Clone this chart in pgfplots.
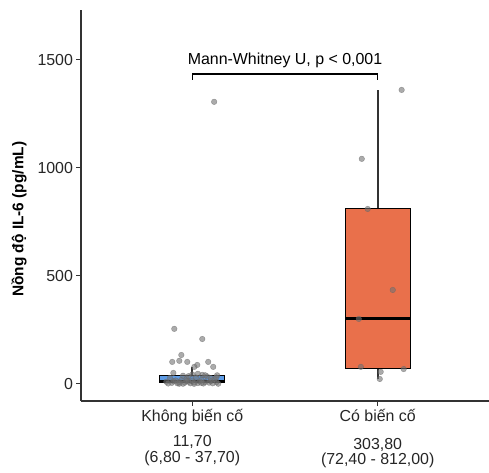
\documentclass[border=0pt]{standalone}
\usepackage{fontspec}
\setmainfont{Liberation Sans}
\usepackage{pgfplots}
\pgfplotsset{compat=1.18}
\definecolor{boxblue}{HTML}{5E9CE6}
\definecolor{boxorange}{HTML}{E9704B}
\definecolor{axisgray}{HTML}{333333}
\begin{document}
\begin{tikzpicture}
\begin{axis}[
  at={(0,0)}, anchor=south west,
  scale only axis, width=408bp, height=391bp,
  xmin=0.4, xmax=2.6, ymin=-79, ymax=1731,
  axis x line*=bottom, axis y line*=left,
  xtick={1,2}, xticklabels={Không biến cố, Có biến cố},
  ytick={0,500,1000,1500},
  tick align=outside, major tick length=4.5bp,
  tick style={axisgray, line width=0.9bp},
  axis line style={axisgray, line width=1.1bp},
  ticklabel style={font=\fontsize{16}{19}\selectfont, text=black!85},
  /pgf/number format/assume math mode=true,
  scaled y ticks=false,
  yticklabel style={/pgf/number format/1000 sep={}},
  ylabel={Nồng độ IL-6 (pg/mL)},
  ylabel style={font=\bfseries\fontsize{15.5}{18}\selectfont, at={(axis description cs:-0.152,0.465)}, anchor=center},
  clip=false,
]
% whiskers
\addplot[axisgray, line width=1.7bp] coordinates {(1,37.7) (1,79)};
\addplot[axisgray, line width=1.7bp] coordinates {(1,6.8) (1,0.5)};
\addplot[axisgray, line width=1.7bp] coordinates {(2,812) (2,1361)};
\addplot[axisgray, line width=1.7bp] coordinates {(2,72.4) (2,23)};
% boxes
\addplot[fill=boxblue, draw=black, line width=1.2bp] coordinates {(0.825,6.8) (1.175,6.8) (1.175,37.7) (0.825,37.7)} -- cycle;
\addplot[fill=boxorange, draw=black, line width=1.2bp] coordinates {(1.825,72.4) (2.175,72.4) (2.175,812) (1.825,812)} -- cycle;
% medians
\addplot[black, line width=2.4bp] coordinates {(0.825,11.7) (1.175,11.7)};
\addplot[black, line width=2.4bp] coordinates {(1.825,303.8) (2.175,303.8)};

\addplot[only marks, mark=*, mark size=2.8bp, fill=black!55, draw=black!60, opacity=0.6] table {
x y
1.118 1306
0.903 255
1.054 208
0.941 134
0.892 102
0.930 107
0.973 102
1.086 102
1.011 79
1.027 88
1.113 79
0.898 51
1.054 42
1.134 40
0.87 2
0.89 5
0.90 12
0.92 3
0.93 8
0.94 18
0.95 1
0.96 6
0.97 25
0.98 10
0.99 3
1.00 15
1.01 7
1.02 30
1.03 4
1.04 11
1.05 20
1.06 2
1.07 9
1.08 35
1.09 6
1.10 13
1.11 3
1.12 22
1.13 8
1.14 1
0.88 28
0.91 16
0.95 38
1.00 44
1.03 47
0.98 36
1.07 40
1.13 30
0.86 10
0.93 1
1.05 5
1.10 27
1.01 0.5
0.97 14
};
\addplot[only marks, mark=*, mark size=2.8bp, fill=black!55, draw=black!60, opacity=0.6] table {
x y
2.129 1361
1.914 1042
1.946 810
2.081 435
1.898 301
1.909 79
2.016 56
2.140 69
2.011 23
};

\addplot[black, line width=1.2bp] coordinates {(1,1407) (1,1435) (2,1435) (2,1407)};
\node[font=\fontsize{16}{19}\selectfont] at (axis cs:1.5,1500) {Mann-Whitney U, p < 0,001};

\node[font=\fontsize{16}{19}\selectfont, text=black!85] at (axis cs:1,-79) [yshift=-41bp] {11,70};
\node[font=\fontsize{16}{19}\selectfont, text=black!85] at (axis cs:1,-79) [yshift=-57bp] {(6,80 - 37,70)};
\node[font=\fontsize{16}{19}\selectfont, text=black!85] at (axis cs:2,-79) [yshift=-44bp] {303,80};
\node[font=\fontsize{16}{19}\selectfont, text=black!85] at (axis cs:2,-79) [yshift=-59bp] {(72,40 - 812,00)};
\end{axis}
\pgfresetboundingbox
\useasboundingbox (-81bp,-72bp) rectangle (408bp,401bp);
\end{tikzpicture}
\end{document}
